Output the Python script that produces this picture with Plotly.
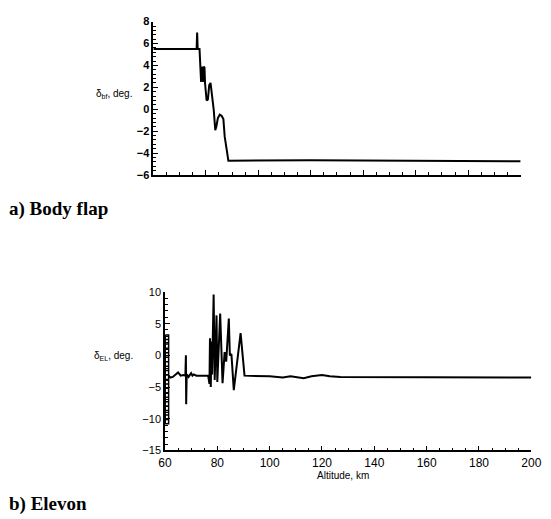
import plotly.graph_objects as go

# Body flap deflection vs altitude
flap_alt = [60, 76.5, 76.7, 76.9, 77.6, 77.9, 78.1, 78.2, 78.4, 78.6, 78.8, 79.0, 79.2,
            79.5, 79.7, 80.0, 80.3, 80.8, 81.3, 81.8, 82.3, 83.0, 83.6, 84.0, 84.6,
            85.3, 86.0, 86.7, 87.2, 88.0, 88.6, 120, 160, 200]
flap_deg = [5.5, 5.5, 7.0, 5.5, 5.5, 4.0, 3.9, 2.5, 3.9, 2.6, 3.9, 2.5, 3.9,
            3.8, 2.4, 1.5, 0.8, 0.9, 2.2, 2.4, 1.5, 0.0, -1.9, -1.6, -0.8,
            -0.5, -0.6, -0.9, -2.5, -4.0, -4.7, -4.65, -4.7, -4.75]

# Elevon: rapid oscillation at the start of the trajectory
elev_osc_alt = [60.1, 61.4]
elev_osc_levels = [3.2, 2.5, 1.8, 1.1, 0.4, -0.3, -1.0, -1.7, -2.4, -3.1, -3.8, -4.5,
                   -5.2, -5.9, -6.6, -7.3, -8.0, -8.7, -9.4, -10.1, -10.8]

elev_alt = [61.4, 62, 63, 64, 65, 66, 67, 67.8, 68.0, 68.1, 68.3, 69, 70, 70.5, 71, 72,
            76.5, 77.0, 77.2, 77.5, 77.8, 78.0, 78.6, 79.0, 79.3, 79.7, 80.0, 80.4, 81.1,
            82.0, 82.8, 83.4, 84.4, 84.8, 85.4, 86.3, 87.5, 88.9, 90.4, 100, 105, 108,
            113, 116, 120, 123, 127, 200]
elev_deg = [-3.2, -3.5, -3.4, -3.0, -2.7, -3.2, -3.1, -3.2, 0.0, -7.7, -3.0, -3.4, -2.8,
            -3.2, -3.0, -3.2, -3.2, -4.5, 2.7, -5.0, 2.2, -3.0, 9.6, -3.9, 1.0, 6.3, -4.2,
            0.5, 6.6, -4.4, 0.5, -1.0, 5.8, 0.0, 0.2, -5.5, -1.5, 3.5, -3.2, -3.3, -3.5,
            -3.3, -3.6, -3.3, -3.1, -3.3, -3.4, -3.5]

# trace the oscillation: right rail with rungs out to the left rail and back
osc_x, osc_y = [], []
for lv in elev_osc_levels:
    osc_x += [elev_osc_alt[1], elev_osc_alt[0], elev_osc_alt[1]]
    osc_y += [lv, lv, lv]
osc_x += [elev_osc_alt[0], elev_osc_alt[0]]
osc_y += [elev_osc_levels[-1], elev_osc_levels[0]]

W, H = 551, 519
line = dict(color="black", width=2)
sans = "Liberation Sans, Arial"
minor_x = dict(dtick=5, ticks="inside", ticklen=3, tickcolor="black")

fig = go.Figure()
fig.add_trace(go.Scatter(x=flap_alt, y=flap_deg, mode="lines", line=line,
                         xaxis="x", yaxis="y", showlegend=False))
fig.add_trace(go.Scatter(x=osc_x, y=osc_y, mode="lines", line=dict(color="black", width=1.5),
                         xaxis="x2", yaxis="y2", showlegend=False))
fig.add_trace(go.Scatter(x=elev_alt, y=elev_deg, mode="lines", line=line,
                         xaxis="x2", yaxis="y2", showlegend=False))

axis_common = dict(showline=True, linecolor="black", linewidth=1.5, ticks="inside",
                   tickcolor="black", ticklen=5, tickwidth=1, showgrid=False,
                   zeroline=False)

fig.update_layout(
    width=W, height=H, margin=dict(l=0, r=0, t=0, b=0),
    plot_bgcolor="white", paper_bgcolor="white",
    xaxis=dict(domain=[151 / W, 530 / W], anchor="y", range=[60, 200], dtick=20,
               showticklabels=False, minor=minor_x, **axis_common),
    yaxis=dict(domain=[1 - 173 / H, 1 - 16 / H], anchor="x", range=[-6, 8], dtick=2,
               tickfont=dict(family=sans, size=11, color="black", weight="bold"),
               minor=dict(dtick=0.4, ticks="inside", ticklen=3, tickcolor="black"),
               **axis_common),
    xaxis2=dict(domain=[163 / W, 541 / W], anchor="y2", range=[60, 200], dtick=20,
                ticklabeloverflow="allow", minor=minor_x,
                tickfont=dict(family=sans, size=12, color="black"),
                **axis_common),
    yaxis2=dict(domain=[1 - 455 / H, 1 - 292.7 / H], anchor="x2", range=[-15, 10], dtick=5,
                tickfont=dict(family=sans, size=11, color="black"),
                minor=dict(dtick=1, ticks="inside", ticklen=3, tickcolor="black"),
                **axis_common),
)

fig.add_annotation(text="δ<sub>bf</sub>, deg.", xref="paper", yref="paper",
                   x=110 / W, y=1 - 90 / H, xanchor="center", yanchor="middle", showarrow=False,
                   font=dict(family=sans, size=10, color="black"))
fig.add_annotation(text="δ<sub>EL</sub>, deg.", xref="paper", yref="paper",
                   x=110 / W, y=1 - 358 / H, xanchor="center", yanchor="middle", showarrow=False,
                   font=dict(family=sans, size=10, color="black"))
fig.add_annotation(text="Altitude, km", xref="paper", yref="paper",
                   x=347 / W, y=1 - 481 / H, xanchor="center", yanchor="middle", showarrow=False,
                   font=dict(family=sans, size=10, color="black"))
fig.add_annotation(text="<b>a) Body flap</b>", xref="paper", yref="paper",
                   x=0, y=1 - 208 / H, xanchor="left", yanchor="middle", showarrow=False,
                   font=dict(family="Liberation Serif, Times New Roman", size=19, color="black"))
fig.add_annotation(text="<b>b) Elevon</b>", xref="paper", yref="paper",
                   x=0, y=1 - 510 / H, xanchor="left", yanchor="middle", showarrow=False,
                   font=dict(family="Liberation Serif, Times New Roman", size=19, color="black"))

fig.write_html("out.html")
